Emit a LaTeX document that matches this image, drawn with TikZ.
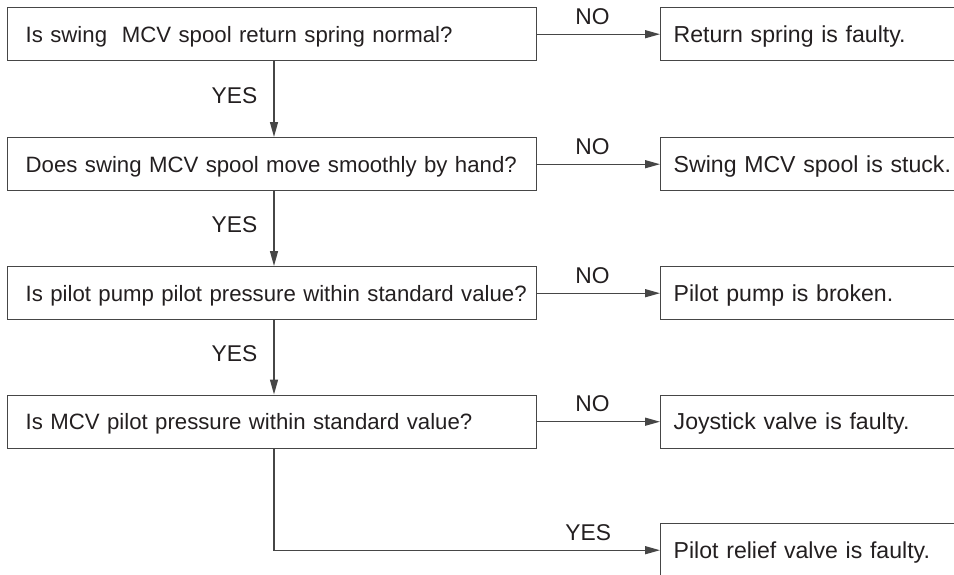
\documentclass[tikz,border=0pt]{standalone}
\usepackage{fontspec}
\setmainfont{Liberation Sans}
\usetikzlibrary{arrows.meta}
\definecolor{linec}{RGB}{70,70,70}
\definecolor{inkc}{RGB}{35,31,32}
\newcommand{\qfont}{\fontsize{22.2}{26}\selectfont}
\newcommand{\afont}{\fontsize{23.1}{27}\selectfont}
\newcommand{\lfont}{\fontsize{22.8}{26}\selectfont}
\begin{document}
\begin{tikzpicture}[x=1pt,y=-1pt,
  every node/.style={text=inkc},
  qbox/.style={draw=linec, line width=1.4pt, anchor=north west, inner sep=0pt,
    minimum height=53pt, text width=529pt, text height=16.2pt, text depth=0pt,
    align=left, font=\qfont},
  abox/.style={draw=linec, line width=1.4pt, anchor=north west, inner sep=0pt,
    minimum height=53pt, text width=340pt, text height=16.4pt, text depth=0pt,
    align=left, font=\afont},
  arr/.style={draw=linec, line width=1.4pt, -{Triangle[length=15pt,width=8pt]}},
  lbl/.style={inner sep=0pt, font=\lfont}]
\useasboundingbox (0,0) rectangle (954,574);
\clip (0,0) rectangle (954,574);

% trunk line shared by the YES branches
\coordinate (spine) at (274,0);

% questions
\node[qbox] (q1) at (7,7)     {\hspace*{18pt}\mbox{Is swing~ MCV spool return spring normal?}};
\node[qbox] (q2) at (7,137)   {\hspace*{18pt}\mbox{Does swing MCV spool move smoothly by hand?}};
\node[qbox] (q3) at (7,266)   {\hspace*{18pt}\mbox{Is pilot pump pilot pressure within standard value?}};
\node[qbox] (q4) at (7,394.5) {\hspace*{18pt}\mbox{Is MCV pilot pressure within standard value?}};

% diagnoses
\node[abox] (a1) at (660,7)     {\hspace*{13pt}\mbox{Return spring is faulty.}};
\node[abox] (a2) at (660,137)   {\hspace*{13pt}\mbox{Swing MCV spool is stuck.}};
\node[abox] (a3) at (660,266)   {\hspace*{13pt}\mbox{Pilot pump is broken.}};
\node[abox] (a4) at (660,394.5) {\hspace*{13pt}\mbox{Joystick valve is faulty.}};
\node[abox] (a5) at (660,523)   {\hspace*{13pt}\mbox{Pilot relief valve is faulty.}};

% NO branches
\foreach \i in {1,2,3,4}{
  \draw[arr] (q\i.east) -- node[lbl, pos=0.45, above=9pt] {NO} (a\i.west);
}

% YES branches
\draw[arr] (q1.south -| spine) -- node[lbl, pos=0.45, left=16pt] {YES} (q2.north -| spine);
\draw[arr] (q2.south -| spine) -- node[lbl, pos=0.45, left=16pt] {YES} (q3.north -| spine);
\draw[arr] (q3.south -| spine) -- node[lbl, pos=0.45, left=16pt] {YES} (q4.north -| spine);
\draw[arr] (q4.south -| spine) |- node[lbl, pos=0.907, above=9pt] {YES} (a5.west);
\end{tikzpicture}
\end{document}
